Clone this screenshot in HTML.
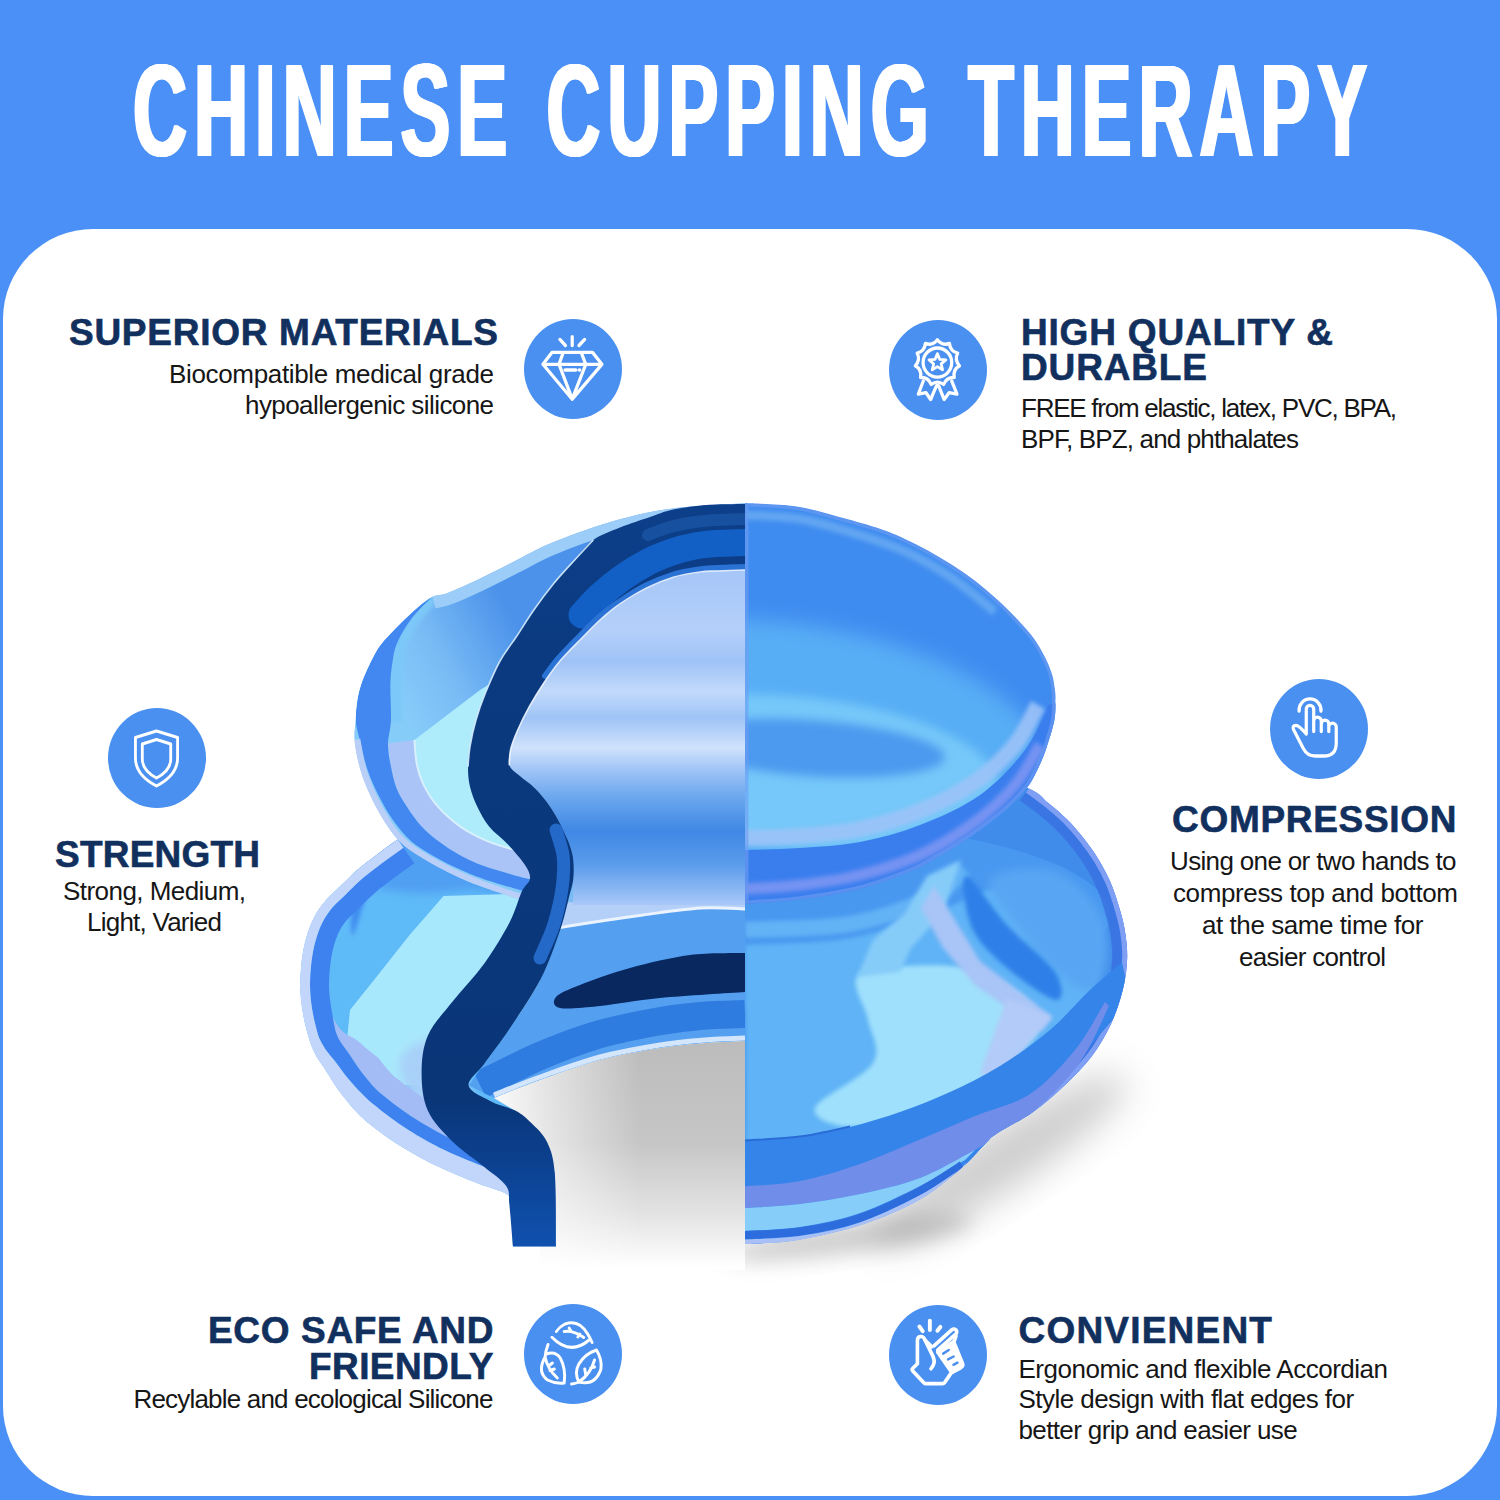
<!DOCTYPE html>
<html lang="en">
<head>
<meta charset="utf-8">
<title>Chinese Cupping Therapy</title>
<style>
html,body{margin:0;padding:0;}
body{width:1500px;height:1500px;overflow:hidden;background:#4a90f7;position:relative;font-family:"Liberation Sans",sans-serif;}
.card{position:absolute;left:3px;top:228.5px;width:1494px;height:1267.5px;background:#fff;border-radius:90px;}
.t{position:absolute;white-space:nowrap;line-height:1;margin:0;}
.title{color:#fff;font-weight:bold;font-size:132px;left:133px;top:45.1px;transform-origin:0 0;transform:scaleX(0.567);letter-spacing:12.2px;word-spacing:8px;text-shadow:2.5px 0 #fff,-2.5px 0 #fff,1.2px 0 #fff,-1.2px 0 #fff;}
.h{color:#12305e;font-weight:bold;-webkit-text-stroke:0.6px #12305e;}
.b{color:#161616;}
.ic{position:absolute;width:98px;height:100px;}
.ic svg{position:absolute;left:0;top:0;width:98px;height:100px;fill:none;stroke:#fff;stroke-width:3.3;stroke-linecap:round;stroke-linejoin:round;}
#prod{position:absolute;left:0;top:0;width:1500px;height:1500px;}
</style>
</head>
<body>
<div class="card"></div>
<h1 class="t title" id="title">CHINESE CUPPING THERAPY</h1>

<svg id="prod" viewBox="0 0 1500 1500">
<defs>
<clipPath id="cr"><rect x="745" y="400" width="600" height="1000"/></clipPath>
<clipPath id="cl"><rect x="200" y="400" width="545" height="1000"/></clipPath>
<filter id="fb18" x="-50%" y="-50%" width="200%" height="200%"><feGaussianBlur stdDeviation="18"/></filter>
<filter id="fb10" x="-50%" y="-50%" width="200%" height="200%"><feGaussianBlur stdDeviation="10"/></filter>
<filter id="fb5" x="-50%" y="-50%" width="200%" height="200%"><feGaussianBlur stdDeviation="5"/></filter>
<filter id="fb2" x="-50%" y="-50%" width="200%" height="200%"><feGaussianBlur stdDeviation="2"/></filter>
<linearGradient id="gband" gradientUnits="userSpaceOnUse" x1="0" y1="500" x2="0" y2="1250"><stop offset="0" stop-color="#0d3f8a"/><stop offset=".2" stop-color="#0b3a80"/><stop offset=".8" stop-color="#0a3678"/><stop offset=".92" stop-color="#0d469a"/><stop offset="1" stop-color="#1052b0"/></linearGradient>
<linearGradient id="ghol" gradientUnits="userSpaceOnUse" x1="0" y1="1041" x2="0" y2="1268"><stop offset="0" stop-color="#bcbcbc"/><stop offset=".45" stop-color="#c6c6c6"/><stop offset=".75" stop-color="#e2e2e2"/><stop offset="1" stop-color="#fff"/></linearGradient>
<linearGradient id="gholw" gradientUnits="userSpaceOnUse" x1="490" y1="0" x2="640" y2="0"><stop offset="0" stop-color="#fff" stop-opacity=".95"/><stop offset=".35" stop-color="#fff" stop-opacity=".6"/><stop offset="1" stop-color="#fff" stop-opacity="0"/></linearGradient>
<linearGradient id="gint" gradientUnits="userSpaceOnUse" x1="0" y1="571" x2="0" y2="905"><stop offset="0" stop-color="#a6c6f8"/><stop offset=".18" stop-color="#b4d0fa"/><stop offset=".27" stop-color="#9fc2f6"/><stop offset=".36" stop-color="#c2dafb"/><stop offset=".44" stop-color="#a0c4f7"/><stop offset=".53" stop-color="#cfe2fc"/><stop offset=".6" stop-color="#9cc2f6"/><stop offset=".68" stop-color="#6aa6ee"/><stop offset=".78" stop-color="#3f88e4"/><stop offset=".88" stop-color="#5b9cec"/><stop offset="1" stop-color="#a9c8f8"/></linearGradient>
<linearGradient id="gE" gradientUnits="userSpaceOnUse" x1="395" y1="700" x2="520" y2="630"><stop offset="0" stop-color="#86ccf9"/><stop offset=".4" stop-color="#79bcf5"/><stop offset="1" stop-color="#4c92ea"/></linearGradient>
<clipPath id="cupl"><path d="M745.0 503.0C732.2 504.0 691.0 505.7 668.0 509.0C645.0 512.3 626.7 517.2 607.0 523.0C587.3 528.8 565.5 537.2 550.0 543.6C534.5 550.0 526.0 555.6 514.0 561.6C502.0 567.6 489.0 574.4 478.0 579.6C467.0 584.8 455.6 589.9 448.0 592.8C440.4 595.7 437.4 594.4 432.4 596.8C427.4 599.2 423.4 602.7 418.0 607.2C412.6 611.7 405.8 618.2 400.0 624.0C394.2 629.8 387.1 637.1 383.0 642.0C378.9 646.9 377.9 648.8 375.3 653.3C372.7 657.8 369.7 664.0 367.3 669.3C364.9 674.6 362.6 680.0 360.9 685.3C359.2 690.6 358.1 695.5 357.2 701.3C356.3 707.1 356.1 713.5 355.6 720.0C355.1 726.5 353.6 731.7 354.4 740.0C355.2 748.3 357.6 760.4 360.4 770.0C363.2 779.6 367.2 789.0 371.2 797.6C375.2 806.2 380.0 814.6 384.4 821.6C388.8 828.6 393.0 834.6 397.6 839.6C402.2 844.6 405.6 847.2 412.0 851.6C418.4 856.0 428.0 861.6 436.0 866.0C444.0 870.4 452.0 874.4 460.0 878.0C468.0 881.6 474.0 884.0 484.0 887.6C494.0 891.2 512.3 897.2 520.0 899.6C527.7 902.0 528.3 901.6 530.0 902.0L745 905Z"/></clipPath>
<clipPath id="clol"><path d="M470.0 800.0C461.7 804.3 432.1 819.4 420.0 826.0C407.9 832.6 404.9 834.7 397.6 839.6C390.3 844.5 382.8 850.1 376.0 855.2C369.2 860.3 363.3 864.5 357.0 870.0C350.7 875.5 343.8 882.3 338.0 888.0C332.2 893.7 326.8 898.3 322.4 904.0C318.0 909.7 314.6 915.3 311.6 922.0C308.6 928.7 306.2 936.3 304.4 944.0C302.6 951.7 301.5 960.0 300.8 968.0C300.1 976.0 299.8 984.0 300.2 992.0C300.6 1000.0 301.7 1008.0 303.2 1016.0C304.7 1024.0 307.1 1033.3 309.2 1040.0C311.3 1046.7 313.5 1051.3 316.0 1056.0C318.5 1060.7 320.1 1062.0 324.0 1068.0C327.9 1074.0 333.6 1084.0 339.6 1092.0C345.6 1100.0 352.6 1108.8 360.0 1116.0C367.4 1123.2 376.0 1129.4 384.0 1135.2C392.0 1141.0 400.0 1146.0 408.0 1150.8C416.0 1155.6 424.0 1160.0 432.0 1164.0C440.0 1168.0 448.0 1171.4 456.0 1174.8C464.0 1178.2 471.7 1181.2 480.0 1184.4C488.3 1187.6 500.8 1190.6 506.0 1194.0C511.2 1197.4 509.8 1196.2 511.0 1205.0C512.2 1213.8 512.7 1239.6 513.0 1246.5L556 1246.5L554.8 1173.4L547.0 1142.0L531.3 1123.0L515.6 1110.7L494.0 1098.0C501.7 1095.0 522.3 1086.3 540.0 1080.0C557.7 1073.7 580.0 1065.3 600.0 1060.0C620.0 1054.7 642.5 1050.8 660.0 1048.0C677.5 1045.2 690.8 1044.2 705.0 1043.0C719.2 1041.8 738.3 1041.3 745.0 1041.0L745 800Z"/></clipPath>
<clipPath id="cupr"><path d="M745.0 503.0C753.7 503.6 780.0 503.8 797.0 506.5C814.0 509.2 833.2 515.3 847.0 519.0C860.8 522.7 870.5 525.6 880.0 528.8C889.5 532.0 896.0 534.8 904.0 538.4C912.0 542.0 920.0 546.0 928.0 550.4C936.0 554.8 944.0 559.6 952.0 564.8C960.0 570.0 968.0 575.4 976.0 581.6C984.0 587.8 993.0 595.6 1000.0 602.0C1007.0 608.4 1012.4 614.0 1018.0 620.0C1023.6 626.0 1029.2 632.0 1033.6 638.0C1038.0 644.0 1041.3 650.0 1044.4 656.0C1047.5 662.0 1050.2 668.3 1052.0 674.0C1053.8 679.7 1054.4 685.7 1055.0 690.0C1055.6 694.3 1055.6 695.0 1055.5 700.0C1055.4 705.0 1055.9 712.0 1054.4 720.0C1052.9 728.0 1049.1 739.9 1046.4 748.0C1043.7 756.1 1041.2 761.8 1038.0 768.4C1034.8 775.0 1032.2 781.0 1027.2 787.6C1022.2 794.2 1015.2 801.4 1008.0 808.0C1000.8 814.6 992.0 821.2 984.0 827.2C976.0 833.2 968.0 838.8 960.0 844.0C952.0 849.2 944.0 853.9 936.0 858.4C928.0 862.9 924.7 865.9 912.0 871.0C899.3 876.1 878.7 884.2 860.0 889.0C841.3 893.8 819.2 897.1 800.0 899.6C780.8 902.1 754.2 903.3 745.0 904.0Z"/></clipPath>
<clipPath id="clor"><path d="M745.0 760.0C780.8 760.0 912.7 755.3 960.0 760.0C1007.3 764.7 1014.1 781.3 1028.8 788.4C1043.5 795.5 1041.6 797.6 1048.0 802.8C1054.4 808.0 1061.2 813.6 1067.2 819.6C1073.2 825.6 1078.8 832.2 1084.0 838.8C1089.2 845.4 1094.0 852.0 1098.4 859.2C1102.8 866.4 1107.0 874.2 1110.4 882.0C1113.8 889.8 1116.4 898.0 1118.8 906.0C1121.2 914.0 1123.4 921.3 1124.8 930.0C1126.2 938.7 1127.5 948.2 1127.2 958.0C1126.9 967.8 1125.7 978.0 1123.0 989.0C1120.3 1000.0 1116.2 1012.8 1111.0 1024.0C1105.8 1035.2 1099.7 1045.8 1092.0 1056.0C1084.3 1066.2 1074.8 1075.7 1065.0 1085.0C1055.2 1094.3 1044.5 1103.8 1033.0 1112.0C1021.5 1120.2 1003.8 1128.8 996.0 1134.0C988.2 1139.2 991.2 1137.8 986.0 1143.0C980.8 1148.2 972.7 1157.8 965.0 1165.0C957.3 1172.2 947.5 1180.2 940.0 1186.0C932.5 1191.8 927.3 1195.3 920.0 1199.6C912.7 1203.9 904.0 1208.0 896.0 1211.6C888.0 1215.2 882.0 1217.8 872.0 1221.2C862.0 1224.6 850.0 1228.6 836.0 1232.0C822.0 1235.4 803.2 1239.6 788.0 1241.6C772.8 1243.6 752.2 1243.6 745.0 1244.0Z"/></clipPath>
<clipPath id="cintlo"><path d="M573.3 860.0C573.3 863.1 574.0 872.4 573.3 878.7C572.6 885.0 571.2 888.7 568.9 897.6C566.6 906.5 564.2 918.4 559.5 932.0C554.8 945.6 549.1 962.8 540.7 979.0C532.4 995.2 518.8 1014.9 509.4 1029.0C500.0 1043.1 491.1 1054.3 484.3 1063.7C477.5 1073.1 471.2 1081.9 468.6 1085.6L494 1098C501.7 1095.0 522.3 1086.3 540.0 1080.0C557.7 1073.7 580.0 1065.3 600.0 1060.0C620.0 1054.7 642.5 1050.8 660.0 1048.0C677.5 1045.2 690.8 1044.2 705.0 1043.0C719.2 1041.8 738.3 1041.3 745.0 1041.0L745 830Z"/></clipPath>
</defs>
<ellipse cx="1000" cy="1160" rx="150" ry="30" transform="rotate(-33 1000 1160)" fill="#8a8a8a" opacity=".42" filter="url(#fb18)"/>
<ellipse cx="850" cy="1238" rx="125" ry="16" transform="rotate(-8 850 1238)" fill="#8a8a8a" opacity=".4" filter="url(#fb10)"/>
<g clip-path="url(#cr)">
<g clip-path="url(#clor)">
<path d="M745.0 760.0C780.8 760.0 912.7 755.3 960.0 760.0C1007.3 764.7 1014.1 781.3 1028.8 788.4C1043.5 795.5 1041.6 797.6 1048.0 802.8C1054.4 808.0 1061.2 813.6 1067.2 819.6C1073.2 825.6 1078.8 832.2 1084.0 838.8C1089.2 845.4 1094.0 852.0 1098.4 859.2C1102.8 866.4 1107.0 874.2 1110.4 882.0C1113.8 889.8 1116.4 898.0 1118.8 906.0C1121.2 914.0 1123.4 921.3 1124.8 930.0C1126.2 938.7 1127.5 948.2 1127.2 958.0C1126.9 967.8 1125.7 978.0 1123.0 989.0C1120.3 1000.0 1116.2 1012.8 1111.0 1024.0C1105.8 1035.2 1099.7 1045.8 1092.0 1056.0C1084.3 1066.2 1074.8 1075.7 1065.0 1085.0C1055.2 1094.3 1044.5 1103.8 1033.0 1112.0C1021.5 1120.2 1003.8 1128.8 996.0 1134.0C988.2 1139.2 991.2 1137.8 986.0 1143.0C980.8 1148.2 972.7 1157.8 965.0 1165.0C957.3 1172.2 947.5 1180.2 940.0 1186.0C932.5 1191.8 927.3 1195.3 920.0 1199.6C912.7 1203.9 904.0 1208.0 896.0 1211.6C888.0 1215.2 882.0 1217.8 872.0 1221.2C862.0 1224.6 850.0 1228.6 836.0 1232.0C822.0 1235.4 803.2 1239.6 788.0 1241.6C772.8 1243.6 752.2 1243.6 745.0 1244.0Z" fill="#3f8cea"/>
<ellipse cx="760" cy="915" rx="350" ry="95" fill="#4898f0" />
<path d="M745.0 930.0C762.5 929.0 819.2 929.3 850.0 924.0C880.8 918.7 910.8 907.0 930.0 898.0C949.2 889.0 959.2 874.7 965.0 870.0" fill="none" stroke="#62b2f6" stroke-width="16" filter="url(#fb2)"/>
<path d="M745.0 945.0C762.5 943.8 817.5 943.8 850.0 938.0C882.5 932.2 913.3 918.8 940.0 910.0C966.7 901.2 987.5 886.3 1010.0 885.0C1032.5 883.7 1060.3 891.2 1075.0 902.0C1089.7 912.8 1096.3 932.0 1098.0 950.0C1099.7 968.0 1094.7 991.7 1085.0 1010.0C1075.3 1028.3 1060.8 1044.2 1040.0 1060.0C1019.2 1075.8 991.7 1092.5 960.0 1105.0C928.3 1117.5 885.8 1128.7 850.0 1135.0C814.2 1141.3 762.5 1141.7 745.0 1143.0Z" fill="#5fb3f6" filter="url(#fb2)"/>
<path d="M990.0 880.0C995.0 870.0 1032.5 865.8 1050.0 870.0C1067.5 874.2 1085.3 891.7 1095.0 905.0C1104.7 918.3 1108.0 935.8 1108.0 950.0C1108.0 964.2 1103.0 985.8 1095.0 990.0C1087.0 994.2 1072.5 985.0 1060.0 975.0C1047.5 965.0 1031.7 945.8 1020.0 930.0C1008.3 914.2 985.0 890.0 990.0 880.0" fill="#58a6f3" filter="url(#fb5)"/>
<path d="M966.0 876.0C971.8 875.5 992.2 909.0 1007.0 925.0C1021.8 941.0 1046.8 959.5 1055.0 972.0C1063.2 984.5 1064.0 1000.7 1056.0 1000.0C1048.0 999.3 1021.0 980.0 1007.0 968.0C993.0 956.0 978.8 943.3 972.0 928.0C965.2 912.7 960.2 876.5 966.0 876.0" fill="#2f80e8" filter="url(#fb2)"/>
<path d="M857.0 977.0C863.2 968.0 884.5 966.8 905.0 966.0C925.5 965.2 957.3 963.0 980.0 972.0C1002.7 981.0 1038.8 1003.2 1041.0 1020.0C1043.2 1036.8 1012.0 1057.5 993.0 1073.0C974.0 1088.5 950.5 1104.0 927.0 1113.0C903.5 1122.0 870.7 1127.8 852.0 1127.0C833.3 1126.2 811.5 1118.7 815.0 1108.0C818.5 1097.3 864.2 1077.7 873.0 1063.0C881.8 1048.3 870.7 1034.3 868.0 1020.0C865.3 1005.7 850.8 986.0 857.0 977.0" fill="#9fe0fc" filter="url(#fb2)"/>
<path d="M927 876L961 860L943 913L911 948L900 972L857 977L873 940L905 913Z" fill="#86ccf9" filter="url(#fb2)"/>
<path d="M934 886L980 961L1052 1017L1041 1031L975 985L943 948L921 908Z" fill="#a9c4f7" filter="url(#fb2)"/>
<path d="M1007 998L1052 1017L996 1081L980 1073Z" fill="#b2cbf8" filter="url(#fb2)"/>
<path d="M1028.8 788.4C1032.0 790.8 1041.6 797.6 1048.0 802.8C1054.4 808.0 1061.2 813.6 1067.2 819.6C1073.2 825.6 1078.8 832.2 1084.0 838.8C1089.2 845.4 1094.0 852.0 1098.4 859.2C1102.8 866.4 1107.0 874.2 1110.4 882.0C1113.8 889.8 1116.4 898.0 1118.8 906.0C1121.2 914.0 1123.4 921.3 1124.8 930.0C1126.2 938.7 1127.5 948.2 1127.2 958.0C1126.9 967.8 1125.7 978.0 1123.0 989.0C1120.3 1000.0 1116.2 1012.8 1111.0 1024.0C1105.8 1035.2 1099.7 1045.8 1092.0 1056.0C1084.3 1066.2 1074.8 1075.7 1065.0 1085.0C1055.2 1094.3 1044.5 1103.8 1033.0 1112.0C1021.5 1120.2 1003.8 1128.8 996.0 1134.0C988.2 1139.2 991.2 1137.8 986.0 1143.0C980.8 1148.2 968.5 1161.3 965.0 1165.0" fill="none" stroke="#3a72e2" stroke-width="30" opacity=".85"/>
<path d="M1028.8 788.4C1032.0 790.8 1041.6 797.6 1048.0 802.8C1054.4 808.0 1061.2 813.6 1067.2 819.6C1073.2 825.6 1078.8 832.2 1084.0 838.8C1089.2 845.4 1094.0 852.0 1098.4 859.2C1102.8 866.4 1107.0 874.2 1110.4 882.0C1113.8 889.8 1116.4 898.0 1118.8 906.0C1121.2 914.0 1123.4 921.3 1124.8 930.0C1126.2 938.7 1127.5 948.2 1127.2 958.0C1126.9 967.8 1125.7 978.0 1123.0 989.0C1120.3 1000.0 1116.2 1012.8 1111.0 1024.0C1105.8 1035.2 1099.7 1045.8 1092.0 1056.0C1084.3 1066.2 1074.8 1075.7 1065.0 1085.0C1055.2 1094.3 1044.5 1103.8 1033.0 1112.0C1021.5 1120.2 1003.8 1128.8 996.0 1134.0C988.2 1139.2 991.2 1137.8 986.0 1143.0C980.8 1148.2 968.5 1161.3 965.0 1165.0" fill="none" stroke="#7f9ff5" stroke-width="10"/>
<path d="M745.0 1141.0C754.2 1140.3 782.5 1139.3 800.0 1137.0C817.5 1134.7 833.3 1131.2 850.0 1127.0C866.7 1122.8 883.3 1117.8 900.0 1112.0C916.7 1106.2 933.3 1099.7 950.0 1092.0C966.7 1084.3 983.3 1076.3 1000.0 1066.0C1016.7 1055.7 1035.0 1042.7 1050.0 1030.0C1065.0 1017.3 1078.0 1001.3 1090.0 990.0C1102.0 978.7 1116.7 966.7 1122.0 962.0L1130 1000L1000 1150L745 1250Z" fill="#3584ea"/>
<path d="M745.0 1186.4C754.2 1185.5 780.8 1184.7 800.0 1181.0C819.2 1177.3 840.0 1170.9 860.0 1164.0C880.0 1157.1 900.8 1147.6 920.0 1139.6C939.2 1131.6 956.7 1123.6 975.0 1116.0C993.3 1108.4 1013.3 1105.0 1030.0 1094.0C1046.7 1083.0 1062.5 1065.3 1075.0 1050.0C1087.5 1034.7 1100.0 1010.0 1105.0 1002.0L1109.0 1006.0C1104.2 1015.3 1092.7 1044.3 1080.0 1062.0C1067.3 1079.7 1050.5 1097.3 1033.0 1112.0C1015.5 1126.7 993.8 1139.0 975.0 1150.0C956.2 1161.0 939.2 1170.7 920.0 1178.0C900.8 1185.3 880.0 1189.7 860.0 1194.0C840.0 1198.3 819.2 1201.7 800.0 1204.0C780.8 1206.3 754.2 1207.3 745.0 1208.0Z" fill="#6f8de9"/>
<path d="M745.0 1208.0C754.2 1207.3 780.8 1206.3 800.0 1204.0C819.2 1201.7 840.0 1198.3 860.0 1194.0C880.0 1189.7 900.8 1185.3 920.0 1178.0C939.2 1170.7 965.8 1154.7 975.0 1150.0L965.0 1160.0C957.5 1164.3 937.5 1177.2 920.0 1186.0C902.5 1194.8 880.0 1206.2 860.0 1213.0C840.0 1219.8 819.2 1224.0 800.0 1227.0C780.8 1230.0 754.2 1230.3 745.0 1231.0Z" fill="#86cdfa"/>
<path d="M745.0 1235.0C754.2 1234.4 780.8 1234.3 800.0 1231.5C819.2 1228.7 840.0 1224.8 860.0 1218.0C880.0 1211.2 903.0 1199.8 920.0 1191.0C937.0 1182.2 955.0 1169.3 962.0 1165.0" fill="none" stroke="#2c6cdc" stroke-width="8"/>
<path d="M745.0 1242.0C754.2 1241.4 780.8 1241.3 800.0 1238.5C819.2 1235.7 840.0 1231.8 860.0 1225.0C880.0 1218.2 903.0 1207.0 920.0 1198.0C937.0 1189.0 955.0 1175.5 962.0 1171.0" fill="none" stroke="#a9c0f6" stroke-width="5"/>
<path d="M745.0 1140.5C754.2 1139.8 782.5 1138.8 800.0 1136.5C817.5 1134.2 841.7 1128.2 850.0 1126.5" fill="none" stroke="#2a6cd6" stroke-width="2"/>
</g>
<g clip-path="url(#cupr)">
<path d="M745.0 503.0C753.7 503.6 780.0 503.8 797.0 506.5C814.0 509.2 833.2 515.3 847.0 519.0C860.8 522.7 870.5 525.6 880.0 528.8C889.5 532.0 896.0 534.8 904.0 538.4C912.0 542.0 920.0 546.0 928.0 550.4C936.0 554.8 944.0 559.6 952.0 564.8C960.0 570.0 968.0 575.4 976.0 581.6C984.0 587.8 993.0 595.6 1000.0 602.0C1007.0 608.4 1012.4 614.0 1018.0 620.0C1023.6 626.0 1029.2 632.0 1033.6 638.0C1038.0 644.0 1041.3 650.0 1044.4 656.0C1047.5 662.0 1050.2 668.3 1052.0 674.0C1053.8 679.7 1054.4 685.7 1055.0 690.0C1055.6 694.3 1055.6 695.0 1055.5 700.0C1055.4 705.0 1055.9 712.0 1054.4 720.0C1052.9 728.0 1049.1 739.9 1046.4 748.0C1043.7 756.1 1041.2 761.8 1038.0 768.4C1034.8 775.0 1032.2 781.0 1027.2 787.6C1022.2 794.2 1015.2 801.4 1008.0 808.0C1000.8 814.6 992.0 821.2 984.0 827.2C976.0 833.2 968.0 838.8 960.0 844.0C952.0 849.2 944.0 853.9 936.0 858.4C928.0 862.9 924.7 865.9 912.0 871.0C899.3 876.1 878.7 884.2 860.0 889.0C841.3 893.8 819.2 897.1 800.0 899.6C780.8 902.1 754.2 903.3 745.0 904.0Z" fill="#3f8cf0"/>
<ellipse cx="770" cy="750" rx="280" ry="128" transform="rotate(6 770 750)" fill="#58aef5" filter="url(#fb10)"/>
<ellipse cx="790" cy="772" rx="210" ry="76" transform="rotate(5 790 772)" fill="#74c8f9" filter="url(#fb5)"/>
<ellipse cx="810" cy="748" rx="135" ry="28" transform="rotate(4 810 748)" fill="#4c9aef" filter="url(#fb5)"/>
<path d="M745.0 850.0C754.2 849.7 780.8 849.3 800.0 848.0C819.2 846.7 840.0 845.8 860.0 842.0C880.0 838.2 900.0 832.8 920.0 825.0C940.0 817.2 962.5 807.5 980.0 795.0C997.5 782.5 1013.7 765.0 1025.0 750.0C1036.3 735.0 1044.2 712.5 1048.0 705.0L1070 700L1060 800L900 900L745 915Z" fill="#3a7eee"/>
<path d="M745.0 889.0C754.2 888.3 780.8 887.3 800.0 885.0C819.2 882.7 840.0 880.0 860.0 875.0C880.0 870.0 900.8 863.8 920.0 855.0C939.2 846.2 959.2 833.7 975.0 822.0C990.8 810.3 1004.2 797.8 1015.0 785.0C1025.8 772.2 1035.8 751.7 1040.0 745.0" fill="none" stroke="#7593f2" stroke-width="11" filter="url(#fb2)"/>
<path d="M745.0 838.0C754.2 837.7 780.8 837.5 800.0 836.0C819.2 834.5 840.0 833.2 860.0 829.0C880.0 824.8 900.8 818.8 920.0 811.0C939.2 803.2 959.2 793.0 975.0 782.0C990.8 771.0 1004.5 757.8 1015.0 745.0C1025.5 732.2 1034.2 711.7 1038.0 705.0" fill="none" stroke="#9cc3f8" stroke-width="16" filter="url(#fb2)" opacity=".9"/>
<path d="M745.0 515.0C754.2 515.7 782.5 516.2 800.0 519.0C817.5 521.8 832.7 526.7 850.0 532.0C867.3 537.3 887.0 543.3 904.0 551.0C921.0 558.7 936.8 567.8 952.0 578.0C967.2 588.2 987.8 606.3 995.0 612.0" fill="none" stroke="#62a6f2" stroke-width="9" filter="url(#fb2)"/>
<path d="M745.0 503.0C753.7 503.6 780.0 503.8 797.0 506.5C814.0 509.2 833.2 515.3 847.0 519.0C860.8 522.7 870.5 525.6 880.0 528.8C889.5 532.0 896.0 534.8 904.0 538.4C912.0 542.0 920.0 546.0 928.0 550.4C936.0 554.8 944.0 559.6 952.0 564.8C960.0 570.0 968.0 575.4 976.0 581.6C984.0 587.8 993.0 595.6 1000.0 602.0C1007.0 608.4 1012.4 614.0 1018.0 620.0C1023.6 626.0 1029.2 632.0 1033.6 638.0C1038.0 644.0 1041.3 650.0 1044.4 656.0C1047.5 662.0 1050.2 668.3 1052.0 674.0C1053.8 679.7 1054.4 685.7 1055.0 690.0C1055.6 694.3 1055.6 695.0 1055.5 700.0C1055.4 705.0 1055.9 712.0 1054.4 720.0C1052.9 728.0 1049.1 739.9 1046.4 748.0C1043.7 756.1 1041.2 761.8 1038.0 768.4C1034.8 775.0 1032.2 781.0 1027.2 787.6C1022.2 794.2 1015.2 801.4 1008.0 808.0C1000.8 814.6 992.0 821.2 984.0 827.2C976.0 833.2 968.0 838.8 960.0 844.0C952.0 849.2 944.0 853.9 936.0 858.4C928.0 862.9 924.7 865.9 912.0 871.0C899.3 876.1 878.7 884.2 860.0 889.0C841.3 893.8 819.2 897.1 800.0 899.6C780.8 902.1 754.2 903.3 745.0 904.0Z" fill="none" stroke="#6f9cf2" stroke-width="7" opacity=".6"/>
</g>
</g>
<g clip-path="url(#cl)">
<path d="M494.0 1098.0C501.7 1095.0 522.3 1086.3 540.0 1080.0C557.7 1073.7 580.0 1065.3 600.0 1060.0C620.0 1054.7 642.5 1050.8 660.0 1048.0C677.5 1045.2 690.8 1044.2 705.0 1043.0C719.2 1041.8 738.3 1041.3 745.0 1041.0L745 1270L540 1270L540 1135L515.6 1110.7Z" fill="url(#ghol)"/>
<path d="M494.0 1098.0C501.7 1095.0 522.3 1086.3 540.0 1080.0C557.7 1073.7 580.0 1065.3 600.0 1060.0C620.0 1054.7 642.5 1050.8 660.0 1048.0C677.5 1045.2 690.8 1044.2 705.0 1043.0C719.2 1041.8 738.3 1041.3 745.0 1041.0L745 1270L540 1270L540 1135L515.6 1110.7Z" fill="url(#gholw)"/>
<g clip-path="url(#clol)">
<path d="M470.0 800.0C461.7 804.3 432.1 819.4 420.0 826.0C407.9 832.6 404.9 834.7 397.6 839.6C390.3 844.5 382.8 850.1 376.0 855.2C369.2 860.3 363.3 864.5 357.0 870.0C350.7 875.5 343.8 882.3 338.0 888.0C332.2 893.7 326.8 898.3 322.4 904.0C318.0 909.7 314.6 915.3 311.6 922.0C308.6 928.7 306.2 936.3 304.4 944.0C302.6 951.7 301.5 960.0 300.8 968.0C300.1 976.0 299.8 984.0 300.2 992.0C300.6 1000.0 301.7 1008.0 303.2 1016.0C304.7 1024.0 307.1 1033.3 309.2 1040.0C311.3 1046.7 313.5 1051.3 316.0 1056.0C318.5 1060.7 320.1 1062.0 324.0 1068.0C327.9 1074.0 333.6 1084.0 339.6 1092.0C345.6 1100.0 352.6 1108.8 360.0 1116.0C367.4 1123.2 376.0 1129.4 384.0 1135.2C392.0 1141.0 400.0 1146.0 408.0 1150.8C416.0 1155.6 424.0 1160.0 432.0 1164.0C440.0 1168.0 448.0 1171.4 456.0 1174.8C464.0 1178.2 471.7 1181.2 480.0 1184.4C488.3 1187.6 500.8 1190.6 506.0 1194.0C511.2 1197.4 509.8 1196.2 511.0 1205.0C512.2 1213.8 512.7 1239.6 513.0 1246.5L556 1246.5L554.8 1173.4L547.0 1142.0L531.3 1123.0L515.6 1110.7L494.0 1098.0C501.7 1095.0 522.3 1086.3 540.0 1080.0C557.7 1073.7 580.0 1065.3 600.0 1060.0C620.0 1054.7 642.5 1050.8 660.0 1048.0C677.5 1045.2 690.8 1044.2 705.0 1043.0C719.2 1041.8 738.3 1041.3 745.0 1041.0L745 800Z" fill="#5fbaf8"/>
<path d="M330.0 820.0C362.5 810.0 524.2 807.8 560.0 820.0C595.8 832.2 560.0 881.3 545.0 893.0C530.0 904.7 490.8 890.0 470.0 890.0C449.2 890.0 437.5 894.7 420.0 893.0C402.5 891.3 380.0 892.2 365.0 880.0C350.0 867.8 297.5 830.0 330.0 820.0" fill="#4f9ff2" filter="url(#fb5)"/>
<path d="M443.6 896L540 893L540 1000L430 1085L400 1085L362 1050L347 1040L350 1010L374 980L410 934.4Z" fill="#a8e8fc"/>
<path d="M400.0 1060.0C403.3 1048.3 428.3 1035.0 440.0 1040.0C451.7 1045.0 460.0 1070.0 470.0 1090.0C480.0 1110.0 500.0 1150.0 500.0 1160.0C500.0 1170.0 483.3 1158.3 470.0 1150.0C456.7 1141.7 431.7 1125.0 420.0 1110.0C408.3 1095.0 396.7 1071.7 400.0 1060.0" fill="#a8d0f8" filter="url(#fb5)"/>
<path d="M357.0 872.0C354.7 873.7 352.8 889.5 352.0 900.0C351.2 910.5 350.7 932.5 352.0 935.0C353.3 937.5 357.7 922.5 360.0 915.0C362.3 907.5 366.5 897.2 366.0 890.0C365.5 882.8 359.3 870.3 357.0 872.0" fill="#3f8cf0" filter="url(#fb2)"/>
<path d="M414.5 863.2L411.5 865.3L407.3 868.3L402.4 871.8L397.6 875.3L393.3 878.5L388.5 882.1L384.0 885.4L379.9 888.6L375.9 892.0L372.7 894.9L369.2 898.1L365.5 901.6L361.9 905.2L358.2 908.8L353.9 913.0L350.1 916.6L347.3 919.4L345.2 922.0L343.2 924.7L341.3 927.5L339.7 930.6L338.1 933.8L336.6 937.5L335.1 941.6L333.8 946.0L332.7 950.5L331.7 955.2L330.9 960.1L330.2 965.3L329.7 970.5L329.3 975.7L329.1 980.8L329.0 985.7L329.2 990.6L329.5 995.4L330.1 1000.3L330.8 1005.4L331.7 1010.6L332.6 1016.0L333.5 1021.6L334.6 1027.0L335.5 1031.3L337.3 1035.9L339.0 1039.4L340.5 1042.0L343.1 1045.8L347.7 1052.0L350.9 1056.8L354.0 1061.5L357.1 1066.1L360.2 1070.5L363.3 1074.6L366.1 1078.0L369.1 1081.6L372.1 1085.2L375.2 1088.5L378.3 1091.5L381.3 1094.0L384.4 1096.4L387.5 1099.0L390.9 1101.7L394.5 1104.4L398.3 1107.3L402.0 1110.0L406.4 1113.1L410.6 1115.9L415.0 1118.7L419.4 1121.5L423.9 1124.2L428.4 1126.8L432.7 1129.3L437.1 1131.7L441.5 1134.0L445.8 1136.3L450.1 1138.3L454.4 1140.3L458.8 1142.3L463.4 1144.3L468.1 1146.2L472.6 1148.1L477.1 1150.0L481.6 1151.8L486.3 1153.6L490.7 1155.3L495.3 1156.9L500.8 1158.7L507.3 1160.8L514.6 1163.6L523.8 1168.6L538.2 1184.7L541.8 1201.2L542.3 1206.5L542.7 1212.4L543.0 1218.7L543.3 1225.3L543.5 1231.6L543.7 1237.3L543.8 1242.0L544.0 1245.3L566.0 1244.4L565.8 1241.2L565.7 1236.6L565.5 1230.9L565.3 1224.4L565.0 1217.8L564.7 1211.1L564.2 1204.7L563.6 1198.6L558.2 1175.6L536.4 1150.6L523.4 1143.5L514.6 1140.1L507.6 1137.8L502.2 1136.0L498.3 1134.7L494.3 1133.1L489.7 1131.3L485.3 1129.6L481.0 1127.8L476.6 1126.0L472.1 1124.0L467.7 1122.1L463.5 1120.3L459.5 1118.4L455.6 1116.6L451.7 1114.5L447.6 1112.4L443.5 1110.1L439.4 1107.8L435.2 1105.3L430.9 1102.7L426.7 1100.1L422.7 1097.5L418.9 1094.9L414.8 1092.1L411.3 1089.5L407.7 1086.8L404.4 1084.4L401.5 1082.1L399.0 1080.0L396.6 1078.3L394.2 1076.4L391.7 1073.9L389.0 1071.0L386.3 1067.9L383.5 1064.6L381.1 1061.6L378.4 1058.1L374.6 1054.9L370.1 1051.5L365.5 1047.7L360.8 1043.2L354.2 1038.3L350.4 1036.4L347.7 1035.3L344.5 1033.1L340.7 1029.6L337.9 1026.0L334.8 1021.3L332.6 1016.0L331.7 1010.6L330.8 1005.4L330.1 1000.3L329.5 995.4L329.2 990.6L329.0 985.7L329.1 980.8L329.3 975.7L329.7 970.5L330.2 965.3L330.9 960.1L331.7 955.2L332.7 950.5L333.8 946.0L335.1 941.6L336.6 937.5L338.1 933.8L339.7 930.6L341.3 927.5L343.2 924.7L345.2 922.0L347.3 919.4L350.1 916.6L353.9 913.0L358.2 908.8L361.9 905.2L365.5 901.6L369.2 898.1L372.7 894.9L375.9 892.0L379.9 888.6L384.0 885.4L388.5 882.1L393.3 878.5L397.6 875.3L402.4 871.8L407.3 868.3L411.5 865.3L414.5 863.2Z" fill="#a3bcf6"/>
<path d="M403.4 847.7L400.4 849.9L396.2 852.9L391.3 856.4L386.4 860.0L382.0 863.2L377.1 866.9L372.4 870.4L368.0 873.9L363.5 877.6L359.9 880.8L356.1 884.3L352.3 888.0L348.6 891.6L345.0 895.2L340.7 899.3L336.7 903.1L333.3 906.6L330.2 910.2L327.5 913.9L325.0 917.8L322.8 921.8L320.7 926.1L318.8 930.7L317.1 935.7L315.5 940.9L314.1 946.3L313.0 951.7L312.1 957.3L311.3 963.1L310.8 968.9L310.3 974.6L310.1 980.3L310.0 985.9L310.2 991.5L310.6 997.1L311.2 1002.7L312.0 1008.4L313.0 1014.1L314.2 1020.0L315.7 1026.1L317.2 1031.9L318.7 1036.9L321.2 1042.2L323.7 1046.6L326.1 1050.3L329.6 1054.8L334.6 1060.8L337.8 1065.0L341.1 1069.5L344.6 1074.2L348.2 1078.7L351.9 1083.0L355.0 1086.5L358.4 1090.2L361.9 1093.8L365.4 1097.2L368.8 1100.4L372.3 1103.4L375.7 1106.1L379.2 1109.0L382.9 1111.9L386.7 1114.8L390.6 1117.7L394.5 1120.6L399.0 1123.8L403.5 1126.8L408.0 1129.7L412.6 1132.6L417.2 1135.4L421.8 1138.1L426.4 1140.7L431.0 1143.2L435.5 1145.6L440.0 1147.9L444.5 1150.1L449.0 1152.2L453.6 1154.2L458.3 1156.2L463.0 1158.2L467.6 1160.2L472.2 1162.0L476.9 1163.9L481.6 1165.7L486.2 1167.5L491.1 1169.2L496.8 1171.0L503.0 1173.1L509.3 1175.5L516.3 1179.2L526.4 1190.1L528.9 1202.8L529.3 1207.5L529.7 1213.2L530.0 1219.3L530.3 1225.8L530.5 1232.0L530.7 1237.7L530.9 1242.5L531.0 1245.8L544.0 1245.3L543.8 1242.0L543.7 1237.3L543.5 1231.6L543.3 1225.3L543.0 1218.7L542.7 1212.4L542.3 1206.5L541.8 1201.2L538.2 1184.7L523.8 1168.6L514.6 1163.6L507.3 1160.8L500.8 1158.7L495.3 1156.9L490.7 1155.3L486.3 1153.6L481.6 1151.8L477.1 1150.0L472.6 1148.1L468.1 1146.2L463.4 1144.3L458.8 1142.3L454.4 1140.3L450.1 1138.3L445.8 1136.3L441.5 1134.0L437.1 1131.7L432.7 1129.3L428.4 1126.8L423.9 1124.2L419.4 1121.5L415.0 1118.7L410.6 1115.9L406.4 1113.1L402.0 1110.0L398.3 1107.3L394.5 1104.4L390.9 1101.7L387.5 1099.0L384.4 1096.4L381.3 1094.0L378.3 1091.5L375.2 1088.5L372.1 1085.2L369.1 1081.6L366.1 1078.0L363.3 1074.6L360.2 1070.5L357.1 1066.1L354.0 1061.5L350.9 1056.8L347.7 1052.0L343.1 1045.8L340.5 1042.0L339.0 1039.4L337.3 1035.9L335.5 1031.3L334.6 1027.0L333.5 1021.6L332.6 1016.0L331.7 1010.6L330.8 1005.4L330.1 1000.3L329.5 995.4L329.2 990.6L329.0 985.7L329.1 980.8L329.3 975.7L329.7 970.5L330.2 965.3L330.9 960.1L331.7 955.2L332.7 950.5L333.8 946.0L335.1 941.6L336.6 937.5L338.1 933.8L339.7 930.6L341.3 927.5L343.2 924.7L345.2 922.0L347.3 919.4L350.1 916.6L353.9 913.0L358.2 908.8L361.9 905.2L365.5 901.6L369.2 898.1L372.7 894.9L375.9 892.0L379.9 888.6L384.0 885.4L388.5 882.1L393.3 878.5L397.6 875.3L402.4 871.8L407.3 868.3L411.5 865.3L414.5 863.2Z" fill="#3d82ef"/>
<path d="M397.6 839.6L394.6 841.7L390.4 844.8L385.5 848.3L380.5 851.9L376.0 855.2L371.1 858.9L366.3 862.5L361.7 866.1L357.0 870.0L353.1 873.4L349.2 877.1L345.4 880.8L341.6 884.5L338.0 888.0L333.7 892.1L329.7 896.0L325.9 899.9L322.4 904.0L319.3 908.3L316.5 912.6L313.9 917.2L311.6 922.0L309.5 927.2L307.6 932.6L305.9 938.3L304.4 944.0L303.2 949.9L302.2 955.9L301.4 962.0L300.8 968.0L300.4 974.0L300.1 980.0L300.0 986.0L300.2 992.0L300.6 998.0L301.3 1004.0L302.2 1010.0L303.2 1016.0L304.5 1022.2L306.0 1028.5L307.6 1034.6L309.2 1040.0L311.4 1046.1L313.6 1051.3L316.0 1056.0L319.4 1061.5L324.0 1068.0L326.6 1072.0L329.5 1076.7L332.6 1081.8L336.1 1087.0L339.6 1092.0L342.7 1096.1L345.9 1100.2L349.3 1104.3L352.8 1108.4L356.3 1112.3L360.0 1116.0L363.8 1119.5L367.7 1122.9L371.8 1126.1L375.9 1129.2L380.0 1132.3L384.0 1135.2L388.8 1138.6L393.6 1141.8L398.4 1144.9L403.2 1147.9L408.0 1150.8L412.8 1153.6L417.6 1156.4L422.4 1159.0L427.2 1161.6L432.0 1164.0L436.8 1166.3L441.6 1168.6L446.4 1170.7L451.2 1172.8L456.0 1174.8L460.8 1176.8L465.5 1178.7L470.3 1180.6L475.1 1182.5L480.0 1184.4L485.4 1186.3L491.3 1188.2L497.0 1190.1L502.1 1192.0L506.0 1194.0L510.0 1197.5L511.0 1205.0L511.4 1209.0L511.8 1214.2L512.1 1220.2L512.3 1226.4L512.5 1232.6L512.7 1238.3L512.9 1243.1L513.0 1246.5L531.0 1245.8L530.9 1242.5L530.7 1237.7L530.5 1232.0L530.3 1225.8L530.0 1219.3L529.7 1213.2L529.3 1207.5L528.9 1202.8L526.4 1190.1L516.3 1179.2L509.3 1175.5L503.0 1173.1L496.8 1171.0L491.1 1169.2L486.2 1167.5L481.6 1165.7L476.9 1163.9L472.2 1162.0L467.6 1160.2L463.0 1158.2L458.3 1156.2L453.6 1154.2L449.0 1152.2L444.5 1150.1L440.0 1147.9L435.5 1145.6L431.0 1143.2L426.4 1140.7L421.8 1138.1L417.2 1135.4L412.6 1132.6L408.0 1129.7L403.5 1126.8L399.0 1123.8L394.5 1120.6L390.6 1117.7L386.7 1114.8L382.9 1111.9L379.2 1109.0L375.7 1106.1L372.3 1103.4L368.8 1100.4L365.4 1097.2L361.9 1093.8L358.4 1090.2L355.0 1086.5L351.9 1083.0L348.2 1078.7L344.6 1074.2L341.1 1069.5L337.8 1065.0L334.6 1060.8L329.6 1054.8L326.1 1050.3L323.7 1046.6L321.2 1042.2L318.7 1036.9L317.2 1031.9L315.7 1026.1L314.2 1020.0L313.0 1014.1L312.0 1008.4L311.2 1002.7L310.6 997.1L310.2 991.5L310.0 985.9L310.1 980.3L310.3 974.6L310.8 968.9L311.3 963.1L312.1 957.3L313.0 951.7L314.1 946.3L315.5 940.9L317.1 935.7L318.8 930.7L320.7 926.1L322.8 921.8L325.0 917.8L327.5 913.9L330.2 910.2L333.3 906.6L336.7 903.1L340.7 899.3L345.0 895.2L348.6 891.6L352.3 888.0L356.1 884.3L359.9 880.8L363.5 877.6L368.0 873.9L372.4 870.4L377.1 866.9L382.0 863.2L386.4 860.0L391.3 856.4L396.2 852.9L400.4 849.9L403.4 847.7Z" fill="#c2d5fa"/>
</g>
<g clip-path="url(#cintlo)">
<path d="M573.3 860.0C573.3 863.1 574.0 872.4 573.3 878.7C572.6 885.0 571.2 888.7 568.9 897.6C566.6 906.5 564.2 918.4 559.5 932.0C554.8 945.6 549.1 962.8 540.7 979.0C532.4 995.2 518.8 1014.9 509.4 1029.0C500.0 1043.1 491.1 1054.3 484.3 1063.7C477.5 1073.1 471.2 1081.9 468.6 1085.6L494 1098C501.7 1095.0 522.3 1086.3 540.0 1080.0C557.7 1073.7 580.0 1065.3 600.0 1060.0C620.0 1054.7 642.5 1050.8 660.0 1048.0C677.5 1045.2 690.8 1044.2 705.0 1043.0C719.2 1041.8 738.3 1041.3 745.0 1041.0L745 830Z" fill="#559ff0"/>
<path d="M540 830H745V909C737.7 908.8 718.0 907.0 701.0 908.0C684.0 909.0 665.5 911.9 643.0 915.0C620.5 918.1 583.2 923.7 566.0 926.5C548.8 929.3 544.3 931.1 540.0 932.0Z" fill="#b4d0f9"/>
<path d="M745.0 909.0C737.7 908.8 718.0 907.0 701.0 908.0C684.0 909.0 665.5 911.9 643.0 915.0C620.5 918.1 583.2 923.7 566.0 926.5C548.8 929.3 544.3 931.1 540.0 932.0" fill="none" stroke="#eaf3fe" stroke-width="3"/>
<path d="M745.0 953.0C735.8 953.3 709.2 952.5 690.0 955.0C670.8 957.5 648.3 963.0 630.0 968.0C611.7 973.0 592.3 980.2 580.0 985.0C567.7 989.8 559.3 993.2 556.0 997.0C552.7 1000.8 552.7 1006.5 560.0 1008.0C567.3 1009.5 583.3 1007.7 600.0 1006.0C616.7 1004.3 635.8 1000.3 660.0 998.0C684.2 995.7 730.8 993.0 745.0 992.0Z" fill="#08285f"/>
<path d="M745.0 1014.0C737.5 1014.3 715.0 1014.7 700.0 1016.0C685.0 1017.3 672.2 1018.8 655.0 1022.0C637.8 1025.2 616.2 1029.3 597.0 1035.0C577.8 1040.7 559.5 1047.7 540.0 1056.0C520.5 1064.3 490.0 1080.2 480.0 1085.0" fill="none" stroke="#2f7ce0" stroke-width="28"/>
<path d="M745.0 1038.0C738.3 1038.3 719.2 1038.8 705.0 1040.0C690.8 1041.2 677.5 1042.2 660.0 1045.0C642.5 1047.8 620.0 1051.7 600.0 1057.0C580.0 1062.3 557.7 1070.7 540.0 1077.0C522.3 1083.3 501.7 1092.0 494.0 1095.0" fill="none" stroke="#d4e6fb" stroke-width="5"/>
</g>
<g clip-path="url(#cupl)">
<path d="M745.0 503.0C732.2 504.0 691.0 505.7 668.0 509.0C645.0 512.3 626.7 517.2 607.0 523.0C587.3 528.8 565.5 537.2 550.0 543.6C534.5 550.0 526.0 555.6 514.0 561.6C502.0 567.6 489.0 574.4 478.0 579.6C467.0 584.8 455.6 589.9 448.0 592.8C440.4 595.7 437.4 594.4 432.4 596.8C427.4 599.2 423.4 602.7 418.0 607.2C412.6 611.7 405.8 618.2 400.0 624.0C394.2 629.8 387.1 637.1 383.0 642.0C378.9 646.9 377.9 648.8 375.3 653.3C372.7 657.8 369.7 664.0 367.3 669.3C364.9 674.6 362.6 680.0 360.9 685.3C359.2 690.6 358.1 695.5 357.2 701.3C356.3 707.1 356.1 713.5 355.6 720.0C355.1 726.5 353.6 731.7 354.4 740.0C355.2 748.3 357.6 760.4 360.4 770.0C363.2 779.6 367.2 789.0 371.2 797.6C375.2 806.2 380.0 814.6 384.4 821.6C388.8 828.6 393.0 834.6 397.6 839.6C402.2 844.6 405.6 847.2 412.0 851.6C418.4 856.0 428.0 861.6 436.0 866.0C444.0 870.4 452.0 874.4 460.0 878.0C468.0 881.6 474.0 884.0 484.0 887.6C494.0 891.2 512.3 897.2 520.0 899.6C527.7 902.0 528.3 901.6 530.0 902.0L745 905Z" fill="url(#gE)"/>
<path d="M388 743.6L414.4 740L480 690L560 640L560 900L520 880C526.3 852.2 515.7 850.2 508.0 848.0C500.3 845.8 492.0 843.2 484.0 839.6C476.0 836.0 467.6 831.8 460.0 826.4C452.4 821.0 444.4 814.0 438.4 807.2C432.4 800.4 427.6 792.8 424.0 785.6C420.4 778.4 418.4 771.6 416.8 764.0C415.2 756.4 414.8 744.0 414.4 740.0Z" fill="#aeecfc"/>
<path d="M432.4 598.0C429.3 601.7 419.2 612.3 414.0 620.0C408.8 627.7 403.8 637.0 401.0 644.0C398.2 651.0 398.0 654.3 397.0 662.0C396.0 669.7 395.2 680.0 395.0 690.0C394.8 700.0 395.8 716.7 396.0 722.0" fill="none" stroke="#7cc8f8" stroke-width="12" filter="url(#fb2)"/>
<path d="M388.0 743.6C388.4 747.0 389.0 756.6 390.4 764.0C391.8 771.4 393.6 780.8 396.4 788.0C399.2 795.2 403.0 800.8 407.2 807.2C411.4 813.6 416.2 820.6 421.6 826.4C427.0 832.2 433.2 837.2 439.6 842.0C446.0 846.8 452.6 851.2 460.0 855.2C467.4 859.2 474.0 862.4 484.0 866.0C494.0 869.6 512.3 874.6 520.0 876.8C527.7 879.0 528.3 878.6 530.0 879.0L530.0 853.0C526.3 852.2 515.7 850.2 508.0 848.0C500.3 845.8 492.0 843.2 484.0 839.6C476.0 836.0 467.6 831.8 460.0 826.4C452.4 821.0 444.4 814.0 438.4 807.2C432.4 800.4 427.6 792.8 424.0 785.6C420.4 778.4 418.4 771.6 416.8 764.0C415.2 756.4 414.8 744.0 414.4 740.0Z" fill="#aac4f8"/>
<path d="M414.4 740.0C414.8 744.0 415.2 756.4 416.8 764.0C418.4 771.6 420.4 778.4 424.0 785.6C427.6 792.8 432.4 800.4 438.4 807.2C444.4 814.0 452.4 821.0 460.0 826.4C467.6 831.8 476.0 836.0 484.0 839.6C492.0 843.2 500.3 845.8 508.0 848.0C515.7 850.2 526.3 852.2 530.0 853.0" fill="none" stroke="#d8f0fc" stroke-width="2"/>
<path d="M432.4 596.8C430.0 598.5 423.4 602.7 418.0 607.2C412.6 611.7 405.8 618.2 400.0 624.0C394.2 629.8 387.1 637.1 383.0 642.0C378.9 646.9 377.9 648.8 375.3 653.3C372.7 657.8 369.7 664.0 367.3 669.3C364.9 674.6 362.6 680.0 360.9 685.3C359.2 690.6 358.1 695.5 357.2 701.3C356.3 707.1 355.2 713.5 355.6 720.0C356.0 726.5 357.8 731.7 359.8 740.0C361.8 748.3 364.3 760.4 367.6 770.0C370.9 779.6 375.2 789.0 379.6 797.6C384.0 806.2 388.6 814.2 394.0 821.6C399.4 829.0 405.0 836.0 412.0 842.0C419.0 848.0 428.0 853.0 436.0 857.6C444.0 862.2 452.0 866.0 460.0 869.6C468.0 873.2 474.0 875.8 484.0 879.2C494.0 882.6 512.3 887.7 520.0 890.0C527.7 892.3 528.3 892.5 530.0 893.0L530.0 879.0C528.3 878.6 527.7 879.0 520.0 876.8C512.3 874.6 494.0 869.6 484.0 866.0C474.0 862.4 467.4 859.2 460.0 855.2C452.6 851.2 446.0 846.8 439.6 842.0C433.2 837.2 427.0 832.2 421.6 826.4C416.2 820.6 411.4 813.6 407.2 807.2C403.0 800.8 399.2 795.2 396.4 788.0C393.6 780.8 391.8 771.4 390.4 764.0C389.0 756.6 387.9 750.9 388.0 743.6C388.1 736.3 390.6 729.9 391.0 720.0C391.4 710.1 390.1 694.0 390.4 684.0C390.7 674.0 391.6 667.0 392.8 660.0C394.0 653.0 394.4 649.0 397.6 642.0C400.8 635.0 406.2 625.5 412.0 618.0C417.8 610.5 429.0 600.3 432.4 596.8Z" fill="#4288f0"/>
<path d="M354.4 740.0C355.4 745.0 357.6 760.4 360.4 770.0C363.2 779.6 367.2 789.0 371.2 797.6C375.2 806.2 380.0 814.6 384.4 821.6C388.8 828.6 393.0 834.6 397.6 839.6C402.2 844.6 405.6 847.2 412.0 851.6C418.4 856.0 428.0 861.6 436.0 866.0C444.0 870.4 452.0 874.4 460.0 878.0C468.0 881.6 474.0 884.0 484.0 887.6C494.0 891.2 512.3 897.2 520.0 899.6C527.7 902.0 528.3 901.6 530.0 902.0" fill="none" stroke="#b9cff8" stroke-width="12"/>
<path d="M745.0 503.0C732.2 504.0 691.0 505.7 668.0 509.0C645.0 512.3 626.7 517.2 607.0 523.0C587.3 528.8 565.5 537.2 550.0 543.6C534.5 550.0 526.0 555.6 514.0 561.6C502.0 567.6 489.0 574.4 478.0 579.6C467.0 584.8 455.6 589.9 448.0 592.8C440.4 595.7 435.0 596.1 432.4 596.8" fill="none" stroke="#9ccdf9" stroke-width="24"/>
</g>
<path d="M745.0 570.0C740.3 570.2 724.2 570.7 716.7 571.0C709.2 571.3 707.2 571.0 700.0 572.0C692.8 573.0 682.2 574.6 673.3 577.3C664.4 580.0 655.6 583.5 646.7 588.0C637.8 592.5 627.8 598.7 620.0 604.0C612.2 609.3 606.7 614.0 600.0 620.0C593.3 626.0 586.7 633.2 580.0 640.0C573.3 646.8 566.0 653.9 560.0 661.0C554.0 668.1 549.1 675.1 544.0 682.7C538.9 690.3 533.8 698.7 529.3 706.7C524.8 714.8 520.4 723.9 517.3 731.0C514.2 738.1 512.0 743.6 510.7 749.3C509.4 755.0 507.8 760.8 509.3 765.3C510.9 769.8 516.0 772.4 520.0 776.0C524.0 779.6 529.1 782.7 533.3 786.7C537.5 790.7 541.5 795.1 545.3 800.0C549.1 804.9 552.9 810.7 556.0 816.0C559.1 821.3 561.7 827.0 564.0 832.0C566.3 837.0 568.5 841.3 570.0 846.0C571.5 850.7 572.8 854.5 573.3 860.0C573.8 865.5 573.3 875.6 573.3 878.7L573 905L745 905Z" fill="url(#gint)"/>
<path d="M745.0 504.0C740.3 504.1 725.9 504.1 716.7 504.5C707.5 504.9 697.8 505.7 690.0 506.7C682.2 507.7 676.7 508.6 670.0 510.3C663.3 512.0 658.3 514.1 650.0 517.0C641.7 519.9 629.5 523.7 620.0 527.5C610.5 531.3 600.8 534.6 593.3 540.0C585.8 545.4 581.4 552.7 574.7 560.0C568.0 567.3 560.2 575.5 553.3 584.0C546.4 592.5 539.5 601.8 533.3 610.7C527.1 619.6 521.5 628.9 516.0 637.3C510.4 645.7 505.1 651.7 500.0 661.0C494.9 670.3 489.3 683.5 485.3 693.3C481.3 703.1 478.6 711.1 476.0 720.0C473.4 728.9 471.3 738.9 470.0 746.7C468.7 754.5 468.0 760.0 468.0 766.7C468.0 773.4 468.4 780.0 470.0 786.7C471.6 793.4 474.1 800.0 477.3 806.7C480.5 813.4 484.3 820.5 489.3 826.7C494.3 832.9 501.6 837.6 507.5 844.0C513.4 850.4 521.0 859.0 524.8 864.8C528.5 870.6 530.5 874.3 530.0 878.7C529.5 883.1 525.3 884.0 521.9 891.3C518.5 898.6 515.7 910.7 509.4 922.7C503.1 934.7 493.7 950.4 484.3 963.4C474.9 976.4 462.4 989.0 453.0 1001.0C443.6 1013.0 433.1 1023.5 427.9 1035.5C422.7 1047.5 421.6 1060.5 421.6 1073.0C421.6 1085.5 422.7 1099.2 427.9 1110.7C433.1 1122.2 443.6 1132.6 453.0 1142.0C462.4 1151.4 475.4 1159.7 484.3 1167.0C493.2 1174.3 502.0 1179.7 506.2 1186.0C510.4 1192.3 508.3 1194.6 509.4 1204.7C510.5 1214.8 512.4 1239.5 513.0 1246.5L556.0 1246.5C555.8 1234.3 556.3 1190.8 554.8 1173.4C553.3 1156.0 550.9 1150.4 547.0 1142.0C543.1 1133.6 536.5 1128.2 531.3 1123.0C526.1 1117.8 522.4 1114.3 515.6 1110.7C508.8 1107.1 498.4 1105.5 490.6 1101.3C482.8 1097.1 469.7 1091.9 468.6 1085.6C467.6 1079.3 477.5 1073.1 484.3 1063.7C491.1 1054.3 500.0 1043.1 509.4 1029.0C518.8 1014.9 532.4 995.2 540.7 979.0C549.1 962.8 554.8 945.6 559.5 932.0C564.2 918.4 566.6 906.5 568.9 897.6C571.2 888.7 572.6 885.0 573.3 878.7C574.0 872.4 573.8 865.5 573.3 860.0C572.8 854.5 571.5 850.7 570.0 846.0C568.5 841.3 566.3 837.0 564.0 832.0C561.7 827.0 559.1 821.3 556.0 816.0C552.9 810.7 549.1 804.9 545.3 800.0C541.5 795.1 537.5 790.7 533.3 786.7C529.1 782.7 524.0 779.6 520.0 776.0C516.0 772.4 510.9 769.8 509.3 765.3C507.8 760.8 509.4 755.0 510.7 749.3C512.0 743.6 514.2 738.1 517.3 731.0C520.4 723.9 524.8 714.8 529.3 706.7C533.8 698.7 538.9 690.3 544.0 682.7C549.1 675.1 554.0 668.1 560.0 661.0C566.0 653.9 573.3 646.8 580.0 640.0C586.7 633.2 593.3 626.0 600.0 620.0C606.7 614.0 612.2 609.3 620.0 604.0C627.8 598.7 637.8 592.5 646.7 588.0C655.6 583.5 664.4 580.0 673.3 577.3C682.2 574.6 692.8 573.0 700.0 572.0C707.2 571.0 709.2 571.3 716.7 571.0C724.2 570.7 740.3 570.2 745.0 570.0Z" fill="url(#gband)"/>
<path d="M745.0 542.5C740.2 542.7 724.3 542.9 716.0 543.5C707.7 544.1 702.3 544.6 695.0 546.0C687.7 547.4 679.8 549.3 672.0 552.0C664.2 554.7 656.3 557.7 648.0 562.0C639.7 566.3 630.0 572.3 622.0 578.0C614.0 583.7 606.7 589.8 600.0 596.0C593.3 602.2 585.0 611.8 582.0 615.0" fill="none" stroke="#1260c6" stroke-width="27" stroke-linecap="round"/>
<path d="M745.0 519.0C740.2 519.2 724.8 519.4 716.0 520.0C707.2 520.6 699.7 521.3 692.0 522.5C684.3 523.7 677.3 524.9 670.0 527.0C662.7 529.1 651.7 533.7 648.0 535.0" fill="none" stroke="#16509f" stroke-width="12" stroke-linecap="round"/>
<path d="M745.0 567.0C740.2 567.2 723.7 567.6 716.0 568.0C708.3 568.4 706.3 568.3 699.0 569.5C691.7 570.7 681.0 572.2 672.0 575.0C663.0 577.8 653.8 581.5 645.0 586.0C636.2 590.5 626.8 596.7 619.0 602.0C611.2 607.3 604.8 612.0 598.0 618.0C591.2 624.0 584.7 631.2 578.0 638.0C571.3 644.8 563.5 652.7 558.0 659.0C552.5 665.3 547.2 673.2 545.0 676.0" fill="none" stroke="#2a72d4" stroke-width="6" stroke-linecap="round"/>
<path d="M556.0 830.0C557.2 834.2 561.8 846.7 563.0 855.0C564.2 863.3 563.7 871.7 563.0 880.0C562.3 888.3 560.8 896.7 559.0 905.0C557.2 913.3 555.2 921.2 552.0 930.0C548.8 938.8 542.0 953.3 540.0 958.0" fill="none" stroke="#2468c8" stroke-width="13" stroke-linecap="round"/>
<path d="M745.0 570.0C740.3 570.2 724.2 570.7 716.7 571.0C709.2 571.3 707.2 571.0 700.0 572.0C692.8 573.0 682.2 574.6 673.3 577.3C664.4 580.0 655.6 583.5 646.7 588.0C637.8 592.5 627.8 598.7 620.0 604.0C612.2 609.3 606.7 614.0 600.0 620.0C593.3 626.0 586.7 633.2 580.0 640.0C573.3 646.8 566.0 653.9 560.0 661.0C554.0 668.1 549.1 675.1 544.0 682.7C538.9 690.3 533.8 698.7 529.3 706.7C524.8 714.8 520.4 723.9 517.3 731.0C514.2 738.1 512.0 743.6 510.7 749.3C509.4 755.0 509.5 762.6 509.3 765.3" fill="none" stroke="#eef5ff" stroke-width="1.6" opacity=".9"/>
<path d="M593.3 540.0C590.2 543.3 581.4 552.7 574.7 560.0C568.0 567.3 560.2 575.5 553.3 584.0C546.4 592.5 539.5 601.8 533.3 610.7C527.1 619.6 521.5 628.9 516.0 637.3C510.4 645.7 505.1 651.7 500.0 661.0C494.9 670.3 489.3 683.5 485.3 693.3C481.3 703.1 478.6 711.1 476.0 720.0C473.4 728.9 471.3 738.9 470.0 746.7C468.7 754.5 468.3 763.4 468.0 766.7" fill="none" stroke="#d5ecfd" stroke-width="1.6" opacity=".9"/>
</g>
</svg>

<div class="t h" id="h1" style="left:69.0px;top:313.7px;font-size:37px;letter-spacing:0.73px;">SUPERIOR MATERIALS</div>
<div class="t b" id="b1a" style="left:169.0px;top:361.0px;font-size:26px;letter-spacing:-0.34px;">Biocompatible medical grade</div>
<div class="t b" id="b1b" style="left:245.0px;top:391.5px;font-size:26px;letter-spacing:-0.57px;">hypoallergenic silicone</div>
<div class="t h" id="h2a" style="left:1021.0px;top:313.7px;font-size:37px;letter-spacing:0.81px;">HIGH QUALITY &amp;</div>
<div class="t h" id="h2b" style="left:1021.0px;top:349.2px;font-size:37px;letter-spacing:0.85px;">DURABLE</div>
<div class="t b" id="b2a" style="left:1021.0px;top:395.0px;font-size:26px;letter-spacing:-1.25px;">FREE from elastic, latex, PVC, BPA,</div>
<div class="t b" id="b2b" style="left:1021.0px;top:426.0px;font-size:26px;letter-spacing:-0.86px;">BPF, BPZ, and phthalates</div>
<div class="t h" id="h3" style="left:55.0px;top:835.7px;font-size:37px;letter-spacing:0.21px;">STRENGTH</div>
<div class="t b" id="b3a" style="left:63.0px;top:878.0px;font-size:26px;letter-spacing:-0.55px;">Strong, Medium,</div>
<div class="t b" id="b3b" style="left:87.0px;top:909.0px;font-size:26px;letter-spacing:-0.76px;">Light, Varied</div>
<div class="t h" id="h4" style="left:1172.0px;top:801.2px;font-size:37px;letter-spacing:0.70px;">COMPRESSION</div>
<div class="t b" id="b4a" style="left:1170.0px;top:848.0px;font-size:26px;letter-spacing:-0.65px;">Using one or two hands to</div>
<div class="t b" id="b4b" style="left:1173.0px;top:880.0px;font-size:26px;letter-spacing:-0.38px;">compress top and bottom</div>
<div class="t b" id="b4c" style="left:1202.0px;top:912.0px;font-size:26px;letter-spacing:-0.44px;">at the same time for</div>
<div class="t b" id="b4d" style="left:1239.0px;top:943.5px;font-size:26px;letter-spacing:-0.70px;">easier control</div>
<div class="t h" id="h5a" style="left:208.0px;top:1312.0px;font-size:37px;letter-spacing:0.66px;">ECO SAFE AND</div>
<div class="t h" id="h5b" style="left:309.0px;top:1347.7px;font-size:37px;letter-spacing:0.41px;">FRIENDLY</div>
<div class="t b" id="b5" style="left:133.5px;top:1386.0px;font-size:26px;letter-spacing:-0.81px;">Recylable and ecological Silicone</div>
<div class="t h" id="h6" style="left:1018.5px;top:1311.7px;font-size:37px;letter-spacing:1.21px;">CONVIENENT</div>
<div class="t b" id="b6a" style="left:1018.5px;top:1355.7px;font-size:26px;letter-spacing:-0.48px;">Ergonomic and flexible Accordian</div>
<div class="t b" id="b6b" style="left:1018.5px;top:1386.0px;font-size:26px;letter-spacing:-0.55px;">Style design with flat edges for</div>
<div class="t b" id="b6c" style="left:1018.5px;top:1417.0px;font-size:26px;letter-spacing:-0.63px;">better grip and easier use</div>

<!-- icon 1: diamond -->
<div class="ic" style="left:523.5px;top:319.2px;"><svg viewBox="0 0 100 100" preserveAspectRatio="none">
<circle cx="50" cy="50" r="50" fill="#4a90f0" stroke="none"/>
<path d="M28.5 33.4H69.9L79.5 45.3L49.2 80.2L19.3 45.3ZM19.3 45.3H79.5M40 33.4L35.8 45.3L49.2 80.2L63 45.3L58.4 33.4M41.9 51H53M56.4 51h.4M49.2 17.7V26.5M36.6 20.4L42.3 26.5M61.9 20.4L56.1 26.5"/>
</svg></div>

<!-- icon 2: award -->
<div class="ic" style="left:889.3px;top:319.5px;"><svg viewBox="0 0 100 100" preserveAspectRatio="none">
<circle cx="50" cy="50" r="50" fill="#4a90f0" stroke="none"/>
<path d="M49.4 19.8Q54.2 26.1 61.7 23.4Q62.4 31.3 70.1 33.1Q66.4 40.2 72.0 45.8Q65.0 49.7 66.6 57.5Q58.7 57.1 55.8 64.5Q49.4 59.8 43.0 64.5Q40.1 57.1 32.2 57.5Q33.8 49.7 26.8 45.8Q32.4 40.2 28.7 33.1Q36.4 31.3 37.1 23.4Q44.6 26.1 49.4 19.8Z"/>
<circle cx="49.4" cy="42.6" r="14.6"/>
<path d="M49.4 33.6L51.8 39.4L58 39.8L53.2 43.8L54.7 49.9L49.4 46.6L44.1 49.9L45.6 43.8L40.800 39.8L47 39.4Z" stroke-width="2.800"/>
<path d="M35 61L29.900 74.1L37.800 72.7L42.5 79.5L48.5 65.6M64 61L69.4 74.1L61.3 72.7L56.3 79.5L50.6 65.6"/>
</svg></div>

<!-- icon 3: shield -->
<div class="ic" style="left:107.5px;top:707.5px;"><svg viewBox="0 0 100 100" preserveAspectRatio="none">
<circle cx="50" cy="50" r="50" fill="#4a90f0" stroke="none"/>
<path d="M49.5 23L71 29.5V50Q71 67 49.5 78Q28 67 28 50V29.5Z" stroke-width="2.9"/>
<path d="M49.5 31.5L64 36V51Q64 62.5 49.5 70Q35 62.5 35 51V36Z" stroke-width="2.9"/>
</svg></div>

<!-- icon 4: touch -->
<div class="ic" style="left:1270.3px;top:678.5px;"><svg viewBox="0 0 100 100" preserveAspectRatio="none">
<circle cx="50" cy="50" r="50" fill="#4a90f0" stroke="none"/>
<path d="M29.7 32.2A11.2 11.2 0 1 1 52 32.2"/>
<path d="M37 55V30.2A3.8 3.8 0 0 1 44.6 30.2V52.5M44.6 42A3.8 3.8 0 0 1 52.3 42V52.5M52.3 45A3.8 3.8 0 0 1 60 45V52.5M60 48A3.8 3.8 0 0 1 67.6 48V64Q67.6 77 55 77H46Q38 77 34 69.5L24 50.5Q22.5 46.5 26.5 46.3Q29.5 46.3 37 55"/>
</svg></div>

<!-- icon 5: eco -->
<div class="ic" style="left:523.6px;top:1304.3px;"><svg viewBox="0 0 100 100" preserveAspectRatio="none">
<circle cx="50" cy="50" r="50" fill="#4a90f0" stroke="none"/>
<g stroke-width="3">
<path d="M33 27.5Q36 23 41 20.5M42 20Q56 15 65 30Q67.5 34 69.5 38.5M28.5 33.3Q47 52 66.5 36M41 27.5Q50 26 61 33.5M46 24L48 27M55 33L57 30"/>
<path d="M24.5 40.5Q22 47 21.5 53Q13 68 24 76Q32 80 41 79Q43 65 37 54Q32 47 23 50M21.5 53Q24 65 34 74M25 62L29 59M26.5 66.5L31 65"/>
<path d="M48.5 80Q53 79.5 56 78Q73 82 78.5 65Q80 56 74 46Q62 50 56 60Q51 69 56 78M56 78Q68 70 72 56M63 71L62 65M68 64L72 63"/>
</g>
</svg></div>

<!-- icon 6: snap -->
<div class="ic" style="left:889.3px;top:1304.8px;"><svg viewBox="0 0 100 100" preserveAspectRatio="none">
<circle cx="50" cy="50" r="50" fill="#4a90f0" stroke="none"/>
<path d="M41.7 15.800V25M31 21.500L34.4 26.100M52.400 21.900L49.400 25.700" stroke-width="4"/>
<path d="M49.700 47.200L65.100 37.200L75 59.500L62.800 65.600Z" fill="#fff" stroke-width="3.600"/>
<g stroke-width="3.700">
<path d="M45.900 40.800L64.300 24.700A2.900 2.900 0 0 1 68.100 29.100L49.700 45.200"/>
<path d="M43.600 41.800L36.700 35Q35.500 31.500 32.500 31.500Q29 31.500 29 35.500V58.700L24.300 63.300Q23 64.600 24.300 66L35.500 77.700Q36.500 78.700 38 78.700H54.500Q56 78.700 56.800 77.500L63.500 67.900L73.500 62.500Q76 61 75 58.500L66.200 37.200L68.400 31"/>
<path d="M36.700 35L44.400 50.300Q46.800 55 45.800 58.500Q45 61.500 42.800 63.700"/>
</g>
<path d="M55.300 48.600L61 45M60.300 54.400L66 51.500M65.700 59.800L69.900 57.700" stroke="#4a8fee" stroke-width="2.500"/>
</svg></div>

</body>
</html>
